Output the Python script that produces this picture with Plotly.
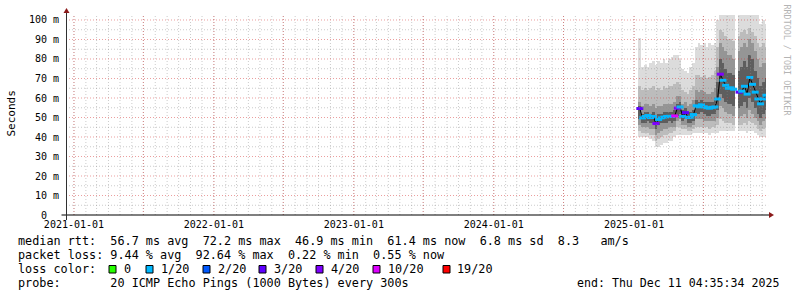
import plotly.graph_objects as go
import pandas as pd

# ---------------- data ----------------
week_start = "2025-01-16"
n_weeks = 48
dates = pd.date_range(week_start, periods=n_weeks, freq="7D")

median = [54.6, 49.8, 50.5, 51.0, 50.0, 50.5, 46.9, 49.0, 49.8, 50.2, 50.5, 50.6, 50.5, 50.8,
          54.8, 55.4, 50.5, 52.5, 50.0, 50.2, 51.5, 56.0, 55.5, 56.5, 55.5, 55.0, 54.8, 55.2, 55.4,
          59.5, 72.2, 69.1, 66.5, 65.0, 65.2, 64.5, None, 63.0, 63.5, 66.0, 62.0, 70.5, 67.0, 63.0,
          59.5, 57.0, 59.5, 61.4]
loss = [3, 1, 1, 1, 1, 1, 4, 1, 1, 1, 1, 1, 1, 10,
        4, 1, 1, 3, 1, 1, 1, 1, 1, 1, 1, 1, 1, 1, 1,
        1, 4, 1, 1, 1, 1, 1, None, 3, 1, 1, 1, 1, 1, 1,
        1, 1, 1, 1]

smoke_hi1 = [91, 76, 77, 76, 78, 79, 77, 79, 78, 80, 78, 80, 81, 82,
             82, 80, 75, 74, 73, 76, 78, 86, 88, 87, 88, 86, 88, 87, 88,
             100, 103, 103, 103, 103, 103, 103, None, 103, 103, 103, 103, 103, 103, 103,
             103, 98, 100, 98]
smoke_hi2 = [66, 64, 65, 64, 65, 66, 64, 65, 64, 66, 65, 66, 66, 67,
             68, 67, 64, 63, 62, 64, 66, 72, 72, 71, 72, 70, 71, 72, 74,
             86, 95, 94, 92, 90, 90, 89, None, 92, 94, 95, 93, 96, 94, 92,
             88, 86, 88, 86]
smoke_hi3 = [58, 56, 57, 57, 56, 57, 55, 56, 56, 57, 57, 57, 57, 58,
             61, 61, 57, 58, 56, 57, 59, 64, 63, 64, 63, 62, 62, 63, 65,
             76, 88, 86, 84, 82, 82, 80, None, 84, 86, 88, 86, 90, 88, 84,
             80, 76, 78, 78]
smoke_hi4 = [56, 52, 53, 53, 52, 53, 50, 52, 52, 53, 53, 53, 53, 54,
             57, 58, 54, 55, 53, 53, 54, 59, 58, 59, 58, 58, 58, 58, 59,
             68, 80, 78, 75, 73, 73, 72, None, 74, 76, 79, 76, 82, 80, 74,
             70, 66, 68, 70]
smoke_lo4 = [49, 47, 47, 48, 47, 47, 44, 46, 47, 47, 47, 48, 47, 48,
             51, 52, 48, 49, 47, 47, 48, 52, 52, 53, 52, 51, 51, 52, 52,
             54, 62, 60, 58, 57, 57, 56, None, 55, 56, 58, 55, 60, 58, 55,
             52, 50, 52, 54]
smoke_lo3 = [46, 45, 45, 45, 44, 44, 41, 42, 43, 44, 44, 45, 45, 45,
             48, 49, 46, 46, 45, 45, 46, 49, 49, 49, 48, 48, 48, 48, 48,
             50, 56, 55, 53, 52, 52, 51, None, 50, 51, 52, 50, 54, 52, 50,
             48, 46, 48, 49]
smoke_lo2 = [43, 42, 42, 42, 41, 41, 38, 39, 40, 41, 41, 42, 42, 43,
             45, 45, 44, 44, 43, 43, 44, 45, 45, 45, 45, 45, 44, 45, 45,
             46, 49, 48, 47, 47, 47, 46, None, 46, 46, 47, 46, 48, 47, 46,
             44, 43, 44, 45]
smoke_lo1 = [40, 40, 40, 40, 39, 38, 35, 35, 36, 37, 37, 38, 38, 40,
             41, 41, 41, 41, 41, 41, 42, 42, 42, 42, 42, 42, 41, 42, 42,
             42, 43, 43, 43, 43, 43, 43, None, 43, 43, 43, 42, 43, 43, 42,
             41, 40, 40, 40]

loss_levels = [0, 1, 2, 3, 4, 10, 19]
loss_labels = ["0", "1/20", "2/20", "3/20", "4/20", "10/20", "19/20"]
loss_colors = ["#26ff00", "#00b8ff", "#0059ff", "#5e00ff", "#7e00ff", "#dd00ff", "#ff0000"]

x_tick_vals = ["2021-01-01", "2021-07-01", "2022-01-01", "2022-07-01", "2023-01-01",
               "2023-07-01", "2024-01-01", "2024-07-01", "2025-01-01", "2025-07-01"]
x_tick_text = ["2021-01-01", "", "2022-01-01", "", "2023-01-01",
               "", "2024-01-01", "", "2025-01-01", ""]
y_tick_vals = [0, 10, 20, 30, 40, 50, 60, 70, 80, 90, 100]
y_tick_text = ["0\u00a0\u00a0", "10\u00a0m", "20\u00a0m", "30\u00a0m", "40\u00a0m", "50\u00a0m",
               "60\u00a0m", "70\u00a0m", "80\u00a0m", "90\u00a0m", "100\u00a0m"]
y_minor_vals = [5, 15, 25, 35, 45, 55, 65, 75, 85, 95]

x_start = "2020-12-11 04:35:34"
x_end = "2025-12-11 04:35:34"
y_max = 102.56

legend_line1 = "median rtt:  56.7 ms avg  72.2 ms max  46.9 ms min  61.4 ms now  6.8 ms sd  8.3   am/s"
legend_line2 = "packet loss: 9.44 % avg  92.64 % max  0.22 % min  0.55 % now"
legend_line3 = "loss color:"
legend_line4 = "probe:       20 ICMP Echo Pings (1000 Bytes) every 300s"
end_text = "end: Thu Dec 11 04:35:34 2025"

# ---------------- layout geometry ----------------
W, H = 797, 297
L, R, T, B = 66, 31, 15, 82
PW, PH = W - L - R, H - T - B


def px(x):
    return (x - L) / PW


def py(y):
    return (H - B - y) / PH


MONO = "DejaVu Sans Mono"

fig = go.Figure()

# smoke bands
week_ms = 7 * 86400000
bands = [
    (smoke_lo1, smoke_hi1, "#dcdcdc"),
    (smoke_lo2, smoke_hi2, "#bcbcbc"),
    (smoke_lo3, smoke_hi3, "#959595"),
    (smoke_lo4, smoke_hi4, "#5e5e5e"),
]
for lo, hi, col in bands:
    heights = [None if (a is None or b is None) else b - a for a, b in zip(lo, hi)]
    fig.add_trace(go.Bar(x=dates, y=heights, base=lo, width=week_ms,
                         marker=dict(color=col, line=dict(width=0)),
                         hoverinfo="skip", showlegend=False))

# median line
fig.add_trace(go.Scatter(x=dates, y=median, mode="lines",
                         line=dict(color="#000000", width=1),
                         connectgaps=False, hoverinfo="skip", showlegend=False))


def loss_color(v):
    c = loss_colors[0]
    for lvl, col in zip(loss_levels, loss_colors):
        if v >= lvl:
            c = col
    return c


pt_colors = [loss_color(v) if v is not None else "#000000" for v in loss]
fig.add_trace(go.Scatter(x=dates, y=median, mode="markers",
                         marker=dict(symbol="line-ew", size=5,
                                     line=dict(color=pt_colors, width=3)),
                         hoverinfo="skip", showlegend=False))

shapes = []
# grid (drawn above data like rrdtool)
minor_months = pd.date_range("2021-01-01", "2025-12-01", freq="MS")
for d in minor_months:
    shapes.append(dict(type="line", xref="x", yref="paper", x0=d, x1=d, y0=0, y1=1,
                       line=dict(color="rgba(140,140,140,0.45)", width=1, dash="1px,2px"),
                       layer="above"))
for yv in y_minor_vals:
    shapes.append(dict(type="line", xref="paper", yref="y", x0=0, x1=1.003, y0=yv, y1=yv,
                       line=dict(color="rgba(140,140,140,0.45)", width=1, dash="1px,2px"),
                       layer="above"))
for d in x_tick_vals:
    shapes.append(dict(type="line", xref="x", yref="paper", x0=d, x1=d, y0=0, y1=1,
                       line=dict(color="rgba(210,40,40,0.45)", width=1, dash="1px,2px"),
                       layer="above"))
for yv in y_tick_vals[1:]:
    shapes.append(dict(type="line", xref="paper", yref="y", x0=0, x1=1.003, y0=yv, y1=yv,
                       line=dict(color="rgba(210,40,40,0.45)", width=1, dash="1px,2px"),
                       layer="above"))

# axes lines
shapes.append(dict(type="line", xref="paper", yref="paper", x0=px(61.5), x1=px(769), y0=0, y1=0,
                   line=dict(color="#000000", width=1), layer="above"))
shapes.append(dict(type="line", xref="paper", yref="paper", x0=px(66.5), x1=px(66.5),
                   y0=py(220), y1=py(11), line=dict(color="#303030", width=1), layer="above"))
# arrows
shapes.append(dict(type="path", xref="paper", yref="paper",
                   path=f"M {px(769)} {py(212)} L {px(774)} {py(215)} L {px(769)} {py(218)} Z",
                   fillcolor="#8b1a1a", line=dict(width=0), layer="above"))
shapes.append(dict(type="path", xref="paper", yref="paper",
                   path=f"M {px(63.5)} {py(13)} L {px(66.5)} {py(8)} L {px(69.5)} {py(13)} Z",
                   fillcolor="#8b1a1a", line=dict(width=0), layer="above"))

annotations = []


def add_text(txt, x, y, anchor="left", size=11.8):
    annotations.append(dict(text=txt.replace(" ", "\u00a0"), xref="paper", yref="paper",
                            x=px(x), y=py(y), xanchor=anchor, yanchor="middle",
                            showarrow=False, font=dict(family=MONO, size=size, color="#000000")))


add_text(legend_line1, 15.5, 241)
add_text(legend_line2, 15.5, 255)
add_text(legend_line3, 15.5, 269)
add_text(legend_line4, 15.5, 283)
add_text(end_text, 780.5, 283, anchor="right", size=11.6)

# loss colour boxes with labels
box_x = [109, 146, 203, 259, 316, 373, 443]
for bx, col, lab in zip(box_x, loss_colors, loss_labels):
    shapes.append(dict(type="rect", xref="paper", yref="paper",
                       x0=px(bx), x1=px(bx + 7), y0=py(273), y1=py(265.5),
                       fillcolor=col, line=dict(color="#000000", width=1), layer="above"))
    add_text(lab, bx + 12.5, 269)

annotations.append(dict(text="Seconds", xref="paper", yref="paper", x=px(10.5), y=py(114),
                        xanchor="center", yanchor="middle", textangle=-90, showarrow=False,
                        font=dict(family=MONO, size=11, color="#000000")))
annotations.append(dict(text="RRDTOOL\u00a0/\u00a0TOBI\u00a0OETIKER", xref="paper", yref="paper",
                        x=px(786.5), y=py(60), xanchor="center", yanchor="middle",
                        textangle=90, showarrow=False,
                        font=dict(family=MONO, size=8.4, color="#b4b4b4")))

fig.update_layout(
    width=W, height=H,
    margin=dict(l=L, r=R, t=T, b=B, pad=0),
    paper_bgcolor="#ffffff", plot_bgcolor="#ffffff",
    barmode="overlay", bargap=0,
    showlegend=False,
    shapes=shapes, annotations=annotations,
    xaxis=dict(type="date", range=[x_start, x_end], tickmode="array",
               tickvals=x_tick_vals, ticktext=x_tick_text, showgrid=False, zeroline=False,
               showline=False, ticks="", tickfont=dict(family=MONO, size=10, color="#000000"),
               ticklabelstandoff=2, fixedrange=True),
    yaxis=dict(range=[0, y_max], tickmode="array", tickvals=y_tick_vals, ticktext=y_tick_text,
               showgrid=False, zeroline=False, showline=False, ticks="",
               tickfont=dict(family=MONO, size=10, color="#000000"),
               ticklabelstandoff=6, fixedrange=True),
)

fig.write_html("out.html")
